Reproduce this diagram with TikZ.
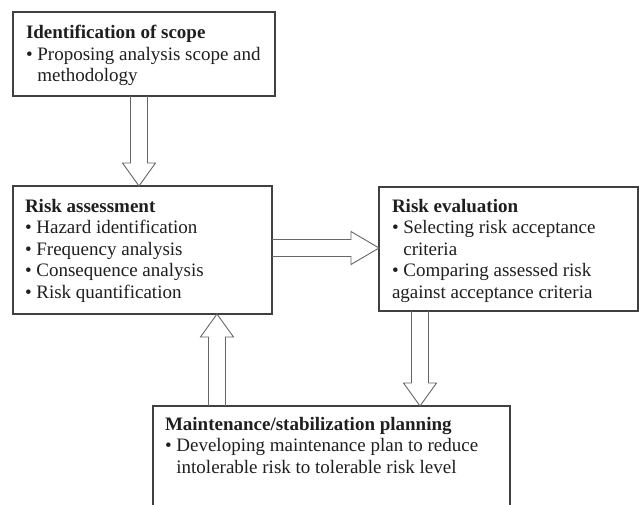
\documentclass[tikz,border=0pt]{standalone}
\usepackage{fontspec}
\setmainfont{Liberation Serif}
\usetikzlibrary{calc}
\tikzset{
  box/.style={draw=black!75, line width=1.2pt, fill=white, inner sep=0pt, outer sep=0pt, anchor=north west},
  txt/.style={inner sep=0pt, outer sep=0pt, anchor=base west, text=black!88, font=\fontsize{19}{21.5}\selectfont},
  arrowline/.style={draw=black!60, line width=0.9pt, line join=miter}
}
\newcommand\hollowarrow[3]{%
  \draw[arrowline]
    ($(#1)!8.5pt!90:(#2)$) --
    ($(#2)!#3!(#1)!8.5pt!90:(#2)$) --
    ($(#2)!#3!(#1)!16.5pt!90:(#2)$) --
    (#2) --
    ($(#2)!#3!(#1)!16.5pt!-90:(#2)$) --
    ($(#2)!#3!(#1)!8.5pt!-90:(#2)$) --
    ($(#1)!8.5pt!-90:(#2)$);
}
\newcommand\hang{\phantom{\textbullet\ }}
\begin{document}
\begin{tikzpicture}[x=1pt, y=-1pt]
\useasboundingbox (0,0) rectangle (639,504);
\clip (0,0) rectangle (639,504);
% boxes
\node[box, minimum width=262pt, minimum height=84pt] (b1) at (13,12) {};
\node[box, minimum width=259pt, minimum height=128pt] (b2) at (13,186) {};
\node[box, minimum width=259pt, minimum height=124pt] (b3) at (379,187) {};
\node[box, minimum width=357pt, minimum height=110pt] (b4) at (153,406) {};
% texts
\node[txt] (t1) at (26,38.5) {\begin{tabular}[t]{@{}l@{}}\textbf{Identification of scope}\\
\textbullet\ Proposing analysis scope and\\
\hang methodology\end{tabular}};
\node[txt] (t2) at (25,212) {\begin{tabular}[t]{@{}l@{}}\textbf{Risk assessment}\\
\textbullet\ Hazard identification\\
\textbullet\ Frequency analysis\\
\textbullet\ Consequence analysis\\
\textbullet\ Risk quantification\end{tabular}};
\node[txt] (t3) at (392,212) {\begin{tabular}[t]{@{}l@{}}\textbf{Risk evaluation}\\
\textbullet\ Selecting risk acceptance\\
\hang criteria\\
\textbullet\ Comparing assessed risk\\
against acceptance criteria\end{tabular}};
\node[txt] (t4) at (165,430) {\begin{tabular}[t]{@{}l@{}}\textbf{Maintenance/stabilization planning}\\
\textbullet\ Developing maintenance plan to reduce\\
\hang intolerable risk to tolerable risk level\end{tabular}};
% arrow end points
\coordinate (a1s) at ($(b1.south west)+(126,0)$);
\coordinate (a1e) at ($(b2.north west)+(126,0)$);
\coordinate (a2s) at ($(b2.north east)+(0,62)$);
\coordinate (a2e) at ($(b3.north west)+(0,61)$);
\coordinate (a3s) at ($(b3.south west)+(41,0)$);
\coordinate (a3e) at ($(b4.north west)+(267,0)$);
\coordinate (a4s) at ($(b4.north west)+(64,0)$);
\coordinate (a4e) at ($(b2.south west)+(204,0)$);
\hollowarrow{a1s}{a1e}{23pt}
\hollowarrow{a2s}{a2e}{28pt}
\hollowarrow{a3s}{a3e}{23pt}
\hollowarrow{a4s}{a4e}{23pt}
\end{tikzpicture}
\end{document}
